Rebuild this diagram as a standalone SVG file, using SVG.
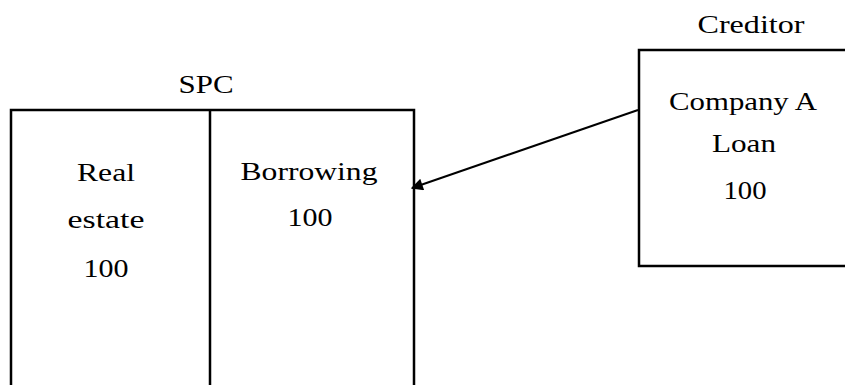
<svg xmlns="http://www.w3.org/2000/svg" width="845" height="385" viewBox="0 0 845 385">
<defs>
<style>
.t{font-family:"Liberation Serif","Times New Roman",serif;font-size:26px;fill:#000;text-anchor:middle}
.b{fill:none;stroke:#000;stroke-width:2.5}
.c{stroke:#000;stroke-width:2;fill:none}
</style>
<marker id="ah" viewBox="0 0 10 10" refX="9" refY="5" markerWidth="7" markerHeight="6" markerUnits="strokeWidth" orient="auto">
<path d="M0,0 L10,5 L0,10 z" fill="#000"/>
</marker>
</defs>
<rect width="845" height="385" fill="#fff"/>
<g id="spc">
<text class="t" x="206" y="93" textLength="55" lengthAdjust="spacingAndGlyphs">SPC</text>
<path class="b" d="M11,390 V110 H414 V390 M210,110 V390"/>
<text class="t" x="106" y="181" textLength="58" lengthAdjust="spacingAndGlyphs">Real</text>
<text class="t" x="106" y="228" textLength="77" lengthAdjust="spacingAndGlyphs">estate</text>
<text class="t" x="106" y="277" textLength="45" lengthAdjust="spacingAndGlyphs">100</text>
<text class="t" x="309" y="180" textLength="137" lengthAdjust="spacingAndGlyphs">Borrowing</text>
<text class="t" x="310" y="226" textLength="45" lengthAdjust="spacingAndGlyphs">100</text>
</g>
<g id="creditor">
<text class="t" x="751" y="33" textLength="107" lengthAdjust="spacingAndGlyphs">Creditor</text>
<path class="b" d="M850,50 H639 V266 H850"/>
<text class="t" x="743" y="110" textLength="148" lengthAdjust="spacingAndGlyphs">Company A</text>
<text class="t" x="744" y="152" textLength="64" lengthAdjust="spacingAndGlyphs">Loan</text>
<text class="t" x="745" y="199" textLength="43" lengthAdjust="spacingAndGlyphs">100</text>
</g>
<g id="connectors">
<line class="c" x1="638" y1="110" x2="412" y2="188" marker-end="url(#ah)"/>
</g>
</svg>
